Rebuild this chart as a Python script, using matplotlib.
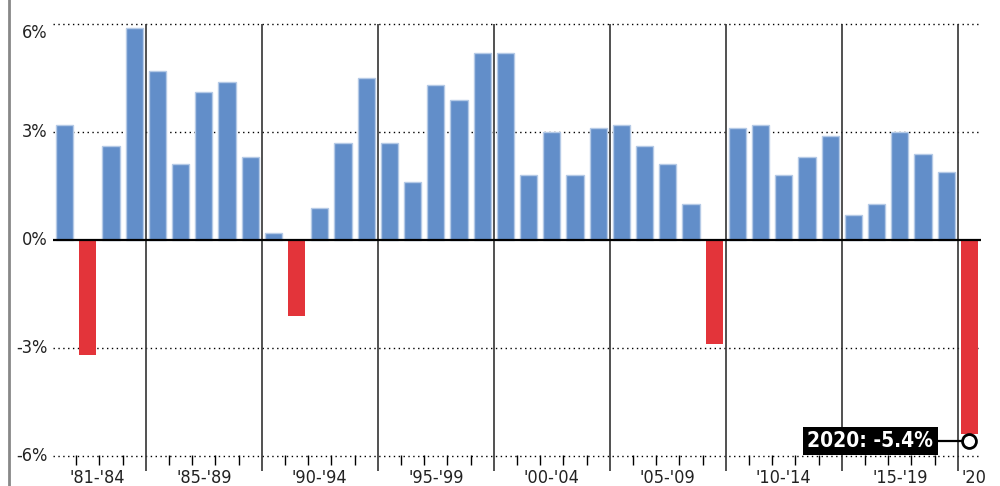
import matplotlib
matplotlib.use("Agg")
import matplotlib.pyplot as plt
from matplotlib.lines import Line2D

years = list(range(1981, 2021))
growth = [3.2, -3.2, 2.6, 5.9, 4.7, 2.1, 4.1, 4.4, 2.3, 0.2,
          -2.1, 0.9, 2.7, 4.5, 2.7, 1.6, 4.3, 3.9, 5.2, 5.2,
          1.8, 3.0, 1.8, 3.1, 3.2, 2.6, 2.1, 1.0, -2.9, 3.1,
          3.2, 1.8, 2.3, 2.9, 0.7, 1.0, 3.0, 2.4, 1.9, -5.4]
group_labels = ["'81-'84", "'85-'89", "'90-'94", "'95-'99", "'00-'04",
                "'05-'09", "'10-'14", "'15-'19", "'20"]
group_centers = [1982.4, 1987, 1992, 1997, 2002, 2007, 2012, 2017, 2020.2]
separators = [1984.5, 1989.5, 1994.5, 1999.5, 2004.5, 2009.5, 2014.5, 2019.5]
ytick_vals = [6, 3, 0, -3, -6]
ytick_labels = ["6%", "3%", "0%", "-3%", "-6%"]

FONT = ['Liberation Sans Narrow', 'DejaVu Sans']
BLUE = '#628ec9'
RED = '#e3343a'

fig = plt.figure(figsize=(10, 4.86), dpi=100)
ax = fig.add_axes([0.053, 0, 0.928, 1])
ax.set_xlim(1980.5, 2020.5)
ax.set_ylim(-6.833, 6.667)
ax.axis('off')

# left frame line
fig.add_artist(Line2D([0.009, 0.009], [0, 1], color='#888888', lw=2))

# dotted grid and zero line
for v in ytick_vals:
    if v == 0:
        ax.axhline(0, color='black', lw=1.6, zorder=4)
    else:
        ax.axhline(v, color='black', lw=1, ls=(0, (1, 2.5)), zorder=1)

# bars
colors = [RED if g < 0 else BLUE for g in growth]
edges = ['none' if g < 0 else '#b5cae6' for g in growth]
ax.bar(years, growth, width=0.74, color=colors, edgecolor=edges, lw=1, zorder=2)

# group separators and year ticks
ax.vlines(separators, -6.42, 6.0, color='#333333', lw=1.2, zorder=3)
minor = [y + 0.5 for y in years[:-1] if (y + 0.5) not in separators]
ax.vlines(minor, -6.25, -5.97, color='black', lw=1, zorder=3)

for lab, c in zip(group_labels, group_centers):
    ax.text(c, -6.75, lab, ha='center', va='baseline', fontsize=13,
            family=FONT, fontstretch='condensed', color='#222222', clip_on=False)

# y labels
for v, lab in zip(ytick_vals, ytick_labels):
    yy = v - 0.26 if v == 6 else v
    ax.text(1980.28, yy, lab, ha='right', va='center', fontsize=13,
            family=FONT, fontstretch='condensed', color='#222222', clip_on=False)

# annotation for 2020
ax.plot([2018.4, years[-1]], [-5.58, -5.58], color='black', lw=1.6, zorder=5)
ax.plot([years[-1]], [-5.58], marker='o', ms=10, mfc='white', mec='black',
        mew=2, zorder=6)
ax.text(2018.45, -5.58, "2020: -5.4%", ha='right', va='center', fontsize=15,
        family=FONT, fontstretch='condensed', fontweight='bold', color='white',
        bbox=dict(fc='black', ec='none', pad=3), zorder=7)

fig.savefig('out.png', dpi=100)
